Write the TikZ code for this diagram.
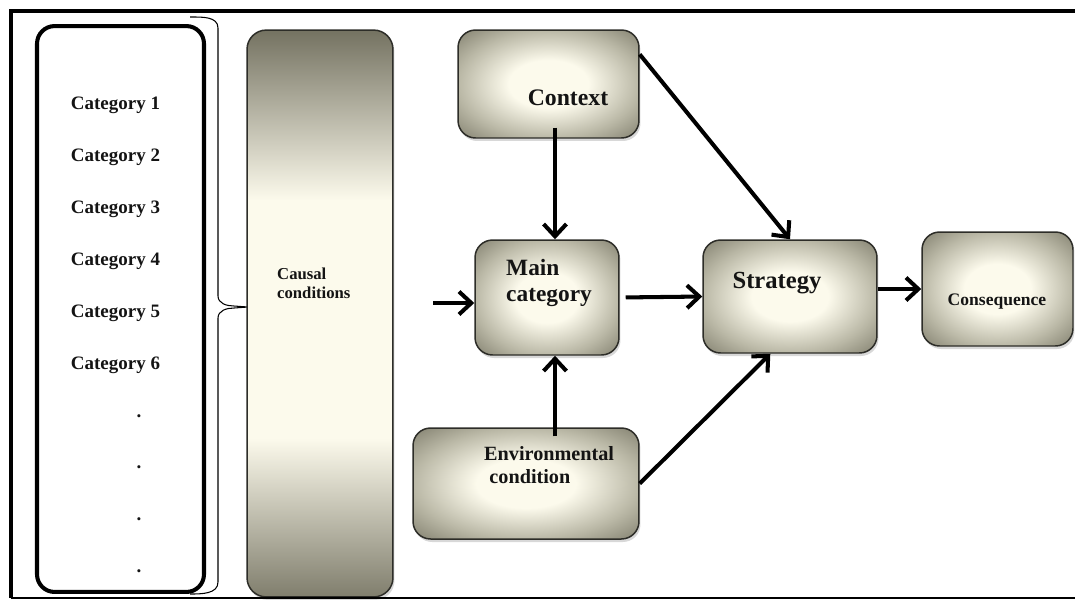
\documentclass[tikz,border=0pt]{standalone}
\usepackage{fontspec}
\setmainfont{Liberation Serif}
\usepackage{tikz}
\usetikzlibrary{arrows.meta}
\usetikzlibrary{shadows}

\definecolor{cream}{RGB}{252,250,236}
\definecolor{midgrey}{RGB}{186,184,166}
\definecolor{darkgrey}{RGB}{128,126,109}
\definecolor{topgrey}{RGB}{116,114,97}
\definecolor{boxline}{RGB}{45,45,40}
\definecolor{ink}{RGB}{20,20,20}

\pgfdeclareradialshading{glow}{\pgfpoint{0bp}{0bp}}{color(0bp)=(cream); color(11bp)=(cream); color(25bp)=(midgrey); color(36bp)=(darkgrey); color(50bp)=(darkgrey)}
\pgfdeclareverticalshading{pillar}{100bp}{color(0bp)=(darkgrey); color(25bp)=(darkgrey); color(39bp)=(cream); color(60bp)=(cream); color(75bp)=(topgrey); color(100bp)=(topgrey)}

\tikzset{box/.style={draw=boxline, line width=0.85pt, rounded corners=10pt, shading=glow,
    drop shadow={shadow xshift=0.03cm, shadow yshift=-0.06cm, opacity=0.3}}}
\tikzset{arr/.style={line width=2.3pt, -{Straight Barb[length=7pt,width=13pt,line width=2.3pt]}}}
\tikzset{c/.style={text=ink, font=\fontsize{10.8}{12}\selectfont\bfseries}}
\tikzset{t/.style={text=ink, font=\fontsize{13.5}{14.5}\selectfont\bfseries}}

\begin{document}
\begin{tikzpicture}[x=0.02cm,y=-0.02cm]
  \useasboundingbox (0,0) rectangle (1075,600);
  \fill[white] (0,0) rectangle (1075,600);

  % left column with the categories
  \node[draw=black, line width=2.3pt, rounded corners=10pt, minimum width=3.34cm,
    minimum height=11.32cm, inner sep=0pt] (cats) at (120.5,309) {};
  \node[c] (c1) at (115.5,105) {Category 1};
  \node[c] (c2) at (115.5,157) {Category 2};
  \node[c] (c3) at (115.5,209) {Category 3};
  \node[c] (c4) at (115.5,261) {Category 4};
  \node[c] (c5) at (115.5,313) {Category 5};
  \node[c] (c6) at (115.5,365) {Category 6};
  \node[c] (d1) at (139,416) {.};
  \node[c] (d2) at (139,467) {.};
  \node[c] (d3) at (139,519) {.};
  \node[c] (d4) at (139,571) {.};

  % brace
  \draw[line width=0.6pt] (190,17) to[out=0,in=90] (218,28) -- (218,296)
    to[out=-90,in=180] (234,306) -- (248,307) -- (234,308)
    to[out=180,in=90] (218,318) -- (218,582) to[out=-90,in=0] (190,594);

  % causal conditions
  \node[draw=boxline, line width=0.85pt, rounded corners=11pt, shading=pillar,
    minimum width=2.92cm, minimum height=11.34cm, inner sep=0pt,
    drop shadow={shadow xshift=0.03cm, shadow yshift=-0.06cm, opacity=0.3}] (cc) at (320,313.5) {};
  \node[text=ink, font=\fontsize{9.5}{10.8}\selectfont\bfseries, align=left, anchor=west]
    (cc-t) at (271,283) {Causal\\conditions};

  % boxes
  \node[box, minimum width=3.62cm, minimum height=2.16cm] (ctx) at (548.5,84) {};
  \node[t] (ctx-t) at (568,98) {Context};
  \node[box, minimum width=2.88cm, minimum height=2.30cm] (mc) at (547,297.5) {};
  \node[t, font=\fontsize{13.3}{14.3}\selectfont\bfseries, align=left, anchor=west]
    (mc-t) at (500,283) {Main\\category};
  \node[box, minimum width=3.48cm, minimum height=2.26cm] (str) at (790,296.5) {};
  \node[t, font=\fontsize{14}{15}\selectfont\bfseries] (str-t) at (777,283) {Strategy};
  \node[box, minimum width=3.02cm, minimum height=2.28cm] (cons) at (997.5,289) {};
  \node[c, font=\fontsize{10}{11}\selectfont\bfseries] (cons-t) at (997,302) {Consequence};
  \node[box, minimum width=4.52cm, minimum height=2.22cm] (env) at (526,483.5) {};
  \node[t, font=\fontsize{11.5}{13}\selectfont\bfseries, align=left, anchor=west]
    (env-t) at (478,465) {Environmental\\\hspace*{3pt}condition};

  % connectors
  \coordinate (in) at (433,303);
  \coordinate (mcn) at ([xshift=0.16cm]mc.north);
  \coordinate (mcs) at ([xshift=0.16cm]mc.south);
  \draw[arr, shorten <=-0.22cm] (mcn |- ctx.south) -- (mcn);
  \draw[arr] (ctx.18) -- (str.north);
  \draw[arr] (in) -- (in -| mc.west);
  \draw[arr, shorten <=0.12cm] (mc.east) -- (str.west);
  \draw[arr, shorten <=-0.18cm] (mcs |- env.north) -- (mcs);
  \draw[arr] (env.east) -- (str.-109);
  \draw[arr] (str.east |- cons.west) -- (cons.west);

  % frame
  \draw[line width=2.3pt] (1080,11) -- (11,11) -- (11,598);
  \draw[line width=1.3pt] (11,598) -- (1080,598);
\end{tikzpicture}
\end{document}
